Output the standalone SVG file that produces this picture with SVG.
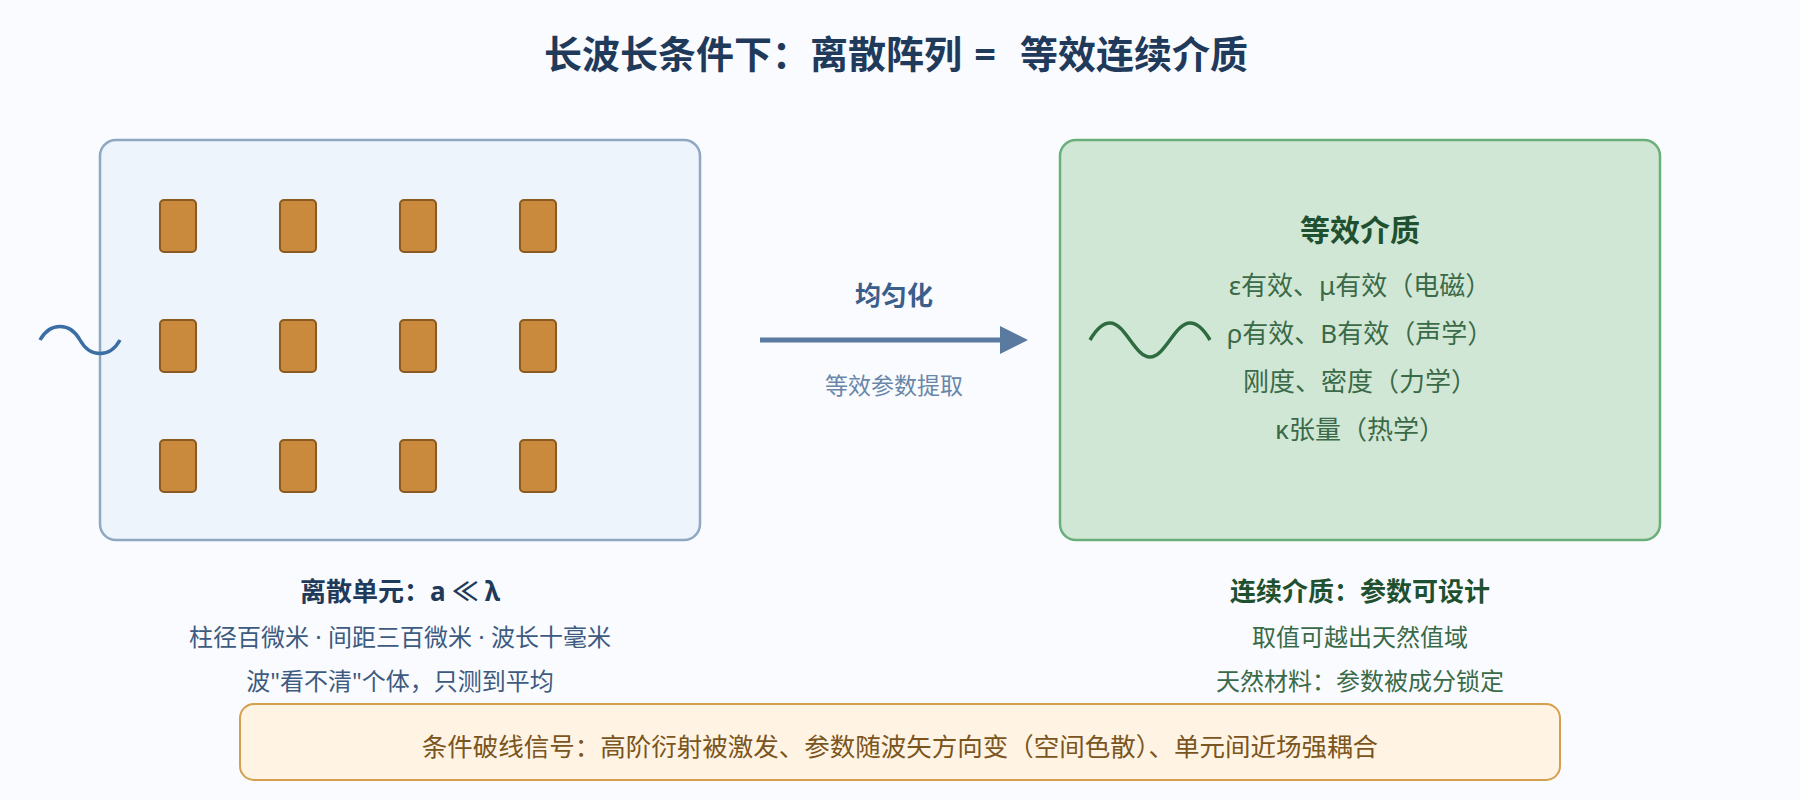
<svg xmlns="http://www.w3.org/2000/svg" width="1800" height="800" viewBox="0 0 1800 800">
<defs>
<style>
text{font-family:"Noto Sans","Noto Sans CJK SC",sans-serif;text-anchor:middle}
.t{font-size:38px;font-weight:700;fill:#1F3A5A}
.pillar{fill:#C98A3D;stroke:#8B5A1F;stroke-width:2}
.bl{font-size:26px;font-weight:700;fill:#1F3A5A}
.bs{font-size:24px;fill:#3D5A80}
.gl{font-size:26px;font-weight:700;fill:#1F5130}
.gs{font-size:24px;fill:#3A6A48}
.gm{font-size:26px;fill:#3A6A48}
</style>
<marker id="ah" markerWidth="28" markerHeight="28" refX="0" refY="14" orient="auto" markerUnits="userSpaceOnUse">
<path d="M0,0 L28,14 L0,28 Z" fill="#5A7AA0"/>
</marker>
</defs>
<rect width="1800" height="800" fill="#F9FBFE"/>
<text class="t" x="900" y="68"><tspan x="962" style="text-anchor:end">长波长条件下：离散阵列</tspan><tspan x="985">=</tspan><tspan x="1020" style="text-anchor:start">等效连续介质</tspan></text>

<g id="discrete">
<rect x="100" y="140" width="600" height="400" rx="16" fill="#EEF4FB" stroke="#8EA8C4" stroke-width="2.5"/>
<rect class="pillar" x="160" y="200" width="36" height="52" rx="4"/>
<rect class="pillar" x="280" y="200" width="36" height="52" rx="4"/>
<rect class="pillar" x="400" y="200" width="36" height="52" rx="4"/>
<rect class="pillar" x="520" y="200" width="36" height="52" rx="4"/>
<rect class="pillar" x="160" y="320" width="36" height="52" rx="4"/>
<rect class="pillar" x="280" y="320" width="36" height="52" rx="4"/>
<rect class="pillar" x="400" y="320" width="36" height="52" rx="4"/>
<rect class="pillar" x="520" y="320" width="36" height="52" rx="4"/>
<rect class="pillar" x="160" y="440" width="36" height="52" rx="4"/>
<rect class="pillar" x="280" y="440" width="36" height="52" rx="4"/>
<rect class="pillar" x="400" y="440" width="36" height="52" rx="4"/>
<rect class="pillar" x="520" y="440" width="36" height="52" rx="4"/>
<path d="M40,340 C50,322 70,322 80,340 S110,358 120,340" fill="none" stroke="#3B6EA5" stroke-width="3.5"/>
<text class="bl" x="400" y="601">离散单元：a ≪ λ</text>
<text class="bs" x="400" y="646">柱径百微米 · 间距三百微米 · 波长十毫米</text>
<text class="bs" x="400" y="690">波"看不清"个体，只测到平均</text>
</g>

<g id="connectors">
<line x1="760" y1="340" x2="1000" y2="340" stroke="#5A7AA0" stroke-width="5" marker-end="url(#ah)"/>
<text x="894" y="305" style="font-size:26px;font-weight:700;fill:#3B5F8A">均匀化</text>
<text x="894" y="394" style="font-size:23px;fill:#6A86A8">等效参数提取</text>
</g>

<g id="medium">
<rect x="1060" y="140" width="600" height="400" rx="16" fill="#D1E7D6" stroke="#6AAF7A" stroke-width="2.5"/>
<path d="M1090,340 C1097,328 1103,323 1110,323 C1125,323 1135,357 1150,357 C1165,357 1175,323 1190,323 C1197,323 1203,328 1210,340" fill="none" stroke="#2E6B40" stroke-width="3.5"/>
<text x="1360" y="241" style="font-size:30px;font-weight:700;fill:#1F5130">等效介质</text>
<text class="gm" x="1360" y="295">ε有效、μ有效（电磁）</text>
<text class="gm" x="1360" y="343">ρ有效、B有效（声学）</text>
<text class="gm" x="1360" y="391">刚度、密度（力学）</text>
<text class="gm" x="1360" y="439">κ张量（热学）</text>
<text class="gl" x="1360" y="601">连续介质：参数可设计</text>
<text class="gs" x="1360" y="646">取值可越出天然值域</text>
<text class="gs" x="1360" y="690">天然材料：参数被成分锁定</text>
</g>

<g id="note">
<rect x="240" y="704" width="1320" height="76" rx="14" fill="#FFF3E3" stroke="#D4A050" stroke-width="2"/>
<text x="900" y="756" style="font-size:25.5px;fill:#7A5520">条件破线信号：高阶衍射被激发、参数随波矢方向变（空间色散）、单元间近场强耦合</text>
</g>
</svg>
